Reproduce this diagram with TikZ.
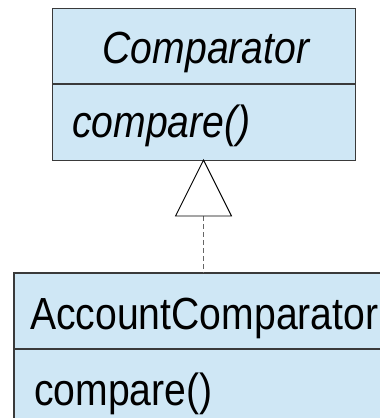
\documentclass[tikz,border=0pt]{standalone}
\usepackage{fontspec}
\setmainfont{Liberation Sans}
\definecolor{boxfill}{HTML}{CFE7F5}
\definecolor{boxline}{HTML}{3A3A3A}
\definecolor{dashgray}{HTML}{666666}
\newcommand{\narrowtext}[1]{\scalebox{0.87}[1]{#1}}
\begin{document}
\begin{tikzpicture}[x=1pt,y=-1pt,
  classbox/.style={draw=boxline, line width=1.4pt, fill=boxfill, rectangle, inner sep=0pt, anchor=north west},
  openbox/.style={fill=boxfill, rectangle, inner sep=0pt, anchor=north west},
  divider/.style={draw=boxline, line width=1.2pt},
  label/.style={anchor=base, inner sep=0pt, font=\fontsize{45}{50}\selectfont},
  tri/.style={draw=black, line width=0.9pt, fill=white, line join=miter},
  realize/.style={draw=dashgray, line width=1.2pt, dash pattern=on 5pt off 3pt}]
\useasboundingbox (0,0) rectangle (380,418);
% superclass box
\node[classbox, minimum width=303pt, minimum height=152pt] (sup) at (52,8) {};
\coordinate (supdiv) at (52,84);
\draw[divider] (supdiv) -- (supdiv -| sup.east);
\node[label, font=\fontsize{45}{50}\selectfont\itshape] (supname) at (206,63) {\narrowtext{Comparator}};
\node[label, anchor=base west, font=\fontsize{45}{50}\selectfont\itshape] (supop) at (72,137) {\narrowtext{compare()}};
% subclass box (runs off the picture to the right and bottom)
\node[openbox, minimum width=400pt, minimum height=160pt] (sub) at (14,273) {};
\draw[boxline, line width=1.4pt] (sub.south west) -- (sub.north west) -- (sub.north east);
\coordinate (subdiv) at (14,349);
\draw[divider] (subdiv) -- (subdiv -| sub.east);
\node[label, anchor=base west] (subname) at (30,329) {\narrowtext{AccountComparator}};
\node[label, anchor=base west] (subop) at (34,405) {\narrowtext{compare()}};
% realization arrow
\coordinate (apex) at (203.5,160);
\coordinate (tribase) at (203.5,216);
\draw[realize] (tribase) -- (tribase |- sub.north);
\draw[tri] (apex) -- ([xshift=-28pt]tribase) -- ([xshift=28pt]tribase) -- cycle;
\end{tikzpicture}
\end{document}
